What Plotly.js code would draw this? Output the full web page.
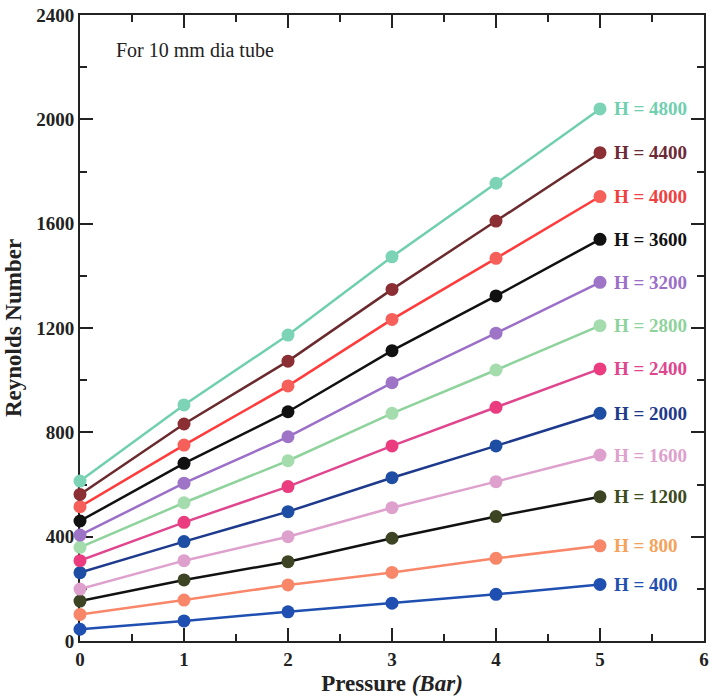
<!DOCTYPE html>
<html>
<head>
<meta charset="utf-8">
<script src="https://cdn.plot.ly/plotly-3.0.1.min.js"></script>
<style>html,body{margin:0;padding:0;background:#fff;}#chart{width:710px;height:696px;}</style>
</head>
<body>
<div id="chart"></div>
<script>
const pressure = [0, 1, 2, 3, 4, 5];
const hLabels = ["H = 400", "H = 800", "H = 1200", "H = 1600", "H = 2000", "H = 2400",
                 "H = 2800", "H = 3200", "H = 3600", "H = 4000", "H = 4400", "H = 4800"];
const re400  = [45, 77, 112, 145, 179, 217];
const re800  = [102, 157, 215, 263, 317, 365];
const re1200 = [153, 234, 304, 394, 477, 553];
const re1600 = [199, 308, 400, 511, 611, 713];
const re2000 = [262, 381, 496, 626, 748, 873];
const re2400 = [308, 455, 592, 748, 896, 1043];
const re2800 = [359, 530, 691, 873, 1039, 1209];
const re3200 = [406, 605, 783, 990, 1180, 1375];
const re3600 = [460, 681, 879, 1113, 1323, 1540];
const re4000 = [515, 751, 978, 1233, 1467, 1704];
const re4400 = [562, 832, 1073, 1348, 1610, 1872];
const re4800 = [613, 905, 1173, 1473, 1755, 2040];
const series = [re400, re800, re1200, re1600, re2000, re2400, re2800, re3200, re3600, re4000, re4400, re4800];

const lineColors   = ["#1f4fb0", "#f8876a", "#111111", "#dea0cc", "#1d3a8c", "#e0468e",
                      "#8fd39c", "#9b6fc8", "#111111", "#ff3b3b", "#6b2a2e", "#6fcfae"];
const markerColors = ["#1f4fb0", "#f8876a", "#3c4423", "#dea0cc", "#1d4ea4", "#ea3c7e",
                      "#a5dcae", "#9d74c6", "#111111", "#f5605a", "#8b2f35", "#7dd3b5"];
const textColors   = ["#1f4fb0", "#f5a25a", "#3c4a20", "#dea0cc", "#1f3a8a", "#e0468e",
                      "#8fd39c", "#9b6fc8", "#111111", "#f0403f", "#6b2a35", "#6fcfae"];

const serif = "Liberation Serif, Times New Roman, serif";

const traces = series.map((ys, i) => ({
  x: pressure, y: ys, type: "scatter", mode: "lines+markers",
  name: hLabels[i], cliponaxis: false,
  line: {color: lineColors[i], width: 2.5},
  marker: {color: markerColors[i], size: 13}
}));

const annotations = series.map((ys, i) => ({
  x: pressure[pressure.length - 1], y: ys[ys.length - 1], xref: "x", yref: "y",
  text: "<b>" + hLabels[i] + "</b>", showarrow: false, xanchor: "left", yanchor: "middle",
  xshift: 12, font: {family: serif, size: 19, color: textColors[i]}
}));
annotations.push({
  x: 0.33, y: 2265, xref: "x", yref: "y", text: "For 10 mm dia tube", showarrow: false,
  xanchor: "left", yanchor: "middle", font: {family: serif, size: 20, color: "#222"}
});

const layout = {
  width: 710, height: 696,
  margin: {l: 80, r: 6, t: 15, b: 55},
  paper_bgcolor: "#fff", plot_bgcolor: "#fff",
  showlegend: false,
  font: {family: serif, color: "#222"},
  xaxis: {
    range: [0, 6], dtick: 1, tick0: 0, showgrid: false, zeroline: false,
    showline: true, linecolor: "#222", linewidth: 2, mirror: "ticks",
    ticks: "inside", ticklen: 13, tickwidth: 2, tickcolor: "#222",
    minor: {dtick: 0.5, ticks: "inside", ticklen: 7, tickwidth: 2, tickcolor: "#222"},
    tickfont: {family: serif, size: 19, color: "#222", weight: "bold"},
    layer: "below traces",
    title: {text: "<b>Pressure <i>(Bar)</i></b>", font: {family: serif, size: 23, color: "#222"}, standoff: 6}
  },
  yaxis: {
    range: [0, 2400], dtick: 400, tick0: 0, showgrid: false, zeroline: false,
    showline: true, linecolor: "#222", linewidth: 2, mirror: "ticks",
    ticks: "inside", ticklen: 13, tickwidth: 2, tickcolor: "#222",
    minor: {dtick: 200, ticks: "inside", ticklen: 7, tickwidth: 2, tickcolor: "#222"},
    tickfont: {family: serif, size: 19, color: "#222", weight: "bold"},
    layer: "below traces",
    title: {text: "<b>Reynolds Number</b>", font: {family: serif, size: 23, color: "#222"}, standoff: 8}
  },
  annotations: annotations
};

Plotly.newPlot("chart", traces, layout, {displayModeBar: false, staticPlot: true});
</script>
</body>
</html>
